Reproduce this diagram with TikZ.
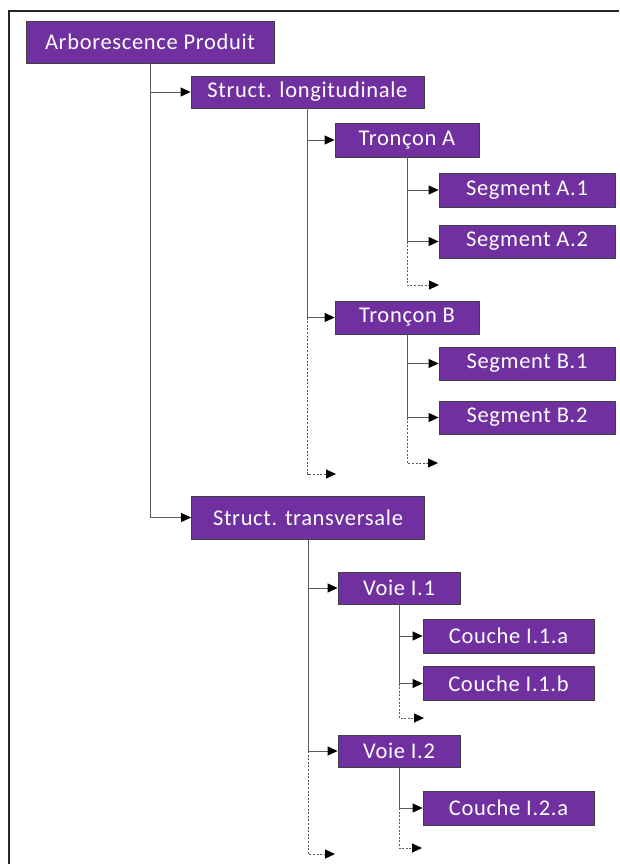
\documentclass[tikz,border=0pt]{standalone}
\usepackage{fontspec}
\setmainfont[LetterSpace=3]{Carlito}
\usetikzlibrary{arrows.meta}
\definecolor{boxpurple}{HTML}{7030A0}
\definecolor{linegray}{HTML}{5A5A5A}
\begin{document}
\begin{tikzpicture}[x=1pt,y=-1pt,
  box/.style={draw=black!75, line width=0.8pt, fill=boxpurple, text=white, inner sep=0pt,
    font=\fontsize{22.5}{26}\selectfont},
  conn/.style={draw=linegray, line width=0.9pt, -{Triangle[length=10pt,width=9pt,color=black]}},
  dotconn/.style={draw=linegray, line width=0.9pt, dash pattern=on 2pt off 1.6pt,
    -{Triangle[length=10pt,width=9pt,color=black]}},
  lvlA/.style={box, minimum width=248pt, minimum height=42pt},
  lvlB/.style={box, minimum width=233pt},
  lvlT/.style={box, minimum width=144pt},
  lvlS/.style={box, minimum width=176pt},
  lvlV/.style={box, minimum width=122pt, minimum height=32pt},
  lvlC/.style={box, minimum width=171pt, minimum height=34pt}
]
\useasboundingbox (0,0) rectangle (619,864);
% frame
\coordinate (fbl) at (9,864);
\coordinate (ftl) at (9,11);
\coordinate (ftr) at (619,11);
\draw[line width=2pt, black!85] (fbl) -- (ftl) -- (ftr);

% nodes
\node[lvlA] (arbo) at (150,42) {Arborescence Produit};
\node[lvlB, minimum height=32pt] (sl) at (307.5,92) {Struct. longitudinale};
\node[lvlT, minimum height=34pt] (ta) at (407,140) {Tronçon A};
\node[lvlS, minimum height=34pt] (sa1) at (527,190) {Segment A.1};
\node[lvlS, minimum height=33pt] (sa2) at (527,241.5) {Segment A.2};
\node[lvlT, minimum height=33pt] (tb) at (407,317.5) {Tronçon B};
\node[lvlS, minimum height=33pt] (sb1) at (527,363.5) {Segment B.1};
\node[lvlS, minimum height=33pt] (sb2) at (527,417.5) {Segment B.2};
\node[lvlB, minimum height=43pt] (st) at (308,517.5) {Struct. transversale};
\node[lvlV] (v1) at (399,588) {Voie I.1};
\node[lvlC] (c1a) at (508.5,636) {Couche I.1.a};
\node[lvlC] (c1b) at (508.5,683.5) {Couche I.1.b};
\node[lvlV] (v2) at (399,751) {Voie I.2};
\node[lvlC] (c2a) at (508.5,808) {Couche I.2.a};

% open ends
\coordinate (ea) at (439,285);
\coordinate (eb) at (438,463);
\coordinate (el) at (336,474);
\coordinate (e1) at (424,718);
\coordinate (e2) at (422,848);
\coordinate (et) at (335,854);

% connectors
\draw[conn] (arbo.south) |- (sl.west);
\draw[conn] (arbo.south) |- (st.west);
\draw[conn] (sl.south) |- (ta.west);
\draw[conn] (sl.south) |- (tb.west);
\draw[conn] (ta.south) |- (sa1.west);
\draw[conn] (ta.south) |- (sa2.west);
\draw[conn] (tb.south) |- (sb1.west);
\draw[conn] (tb.south) |- (sb2.west);
\draw[conn] (st.south) |- (v1.west);
\draw[conn] (st.south) |- (v2.west);
\draw[conn] (v1.south) |- (c1a.west);
\draw[conn] (v1.south) |- (c1b.west);
\draw[conn] (v2.south) |- (c2a.west);

\draw[dotconn] (ta.south |- sa2.west) |- (ea);
\draw[dotconn] (tb.south |- sb2.west) |- (eb);
\draw[dotconn] (sl.south |- tb.west) |- (el);
\draw[dotconn] (v1.south |- c1b.west) |- (e1);
\draw[dotconn] (v2.south |- c2a.west) |- (e2);
\draw[dotconn] (st.south |- v2.west) |- (et);
\end{tikzpicture}
\end{document}
